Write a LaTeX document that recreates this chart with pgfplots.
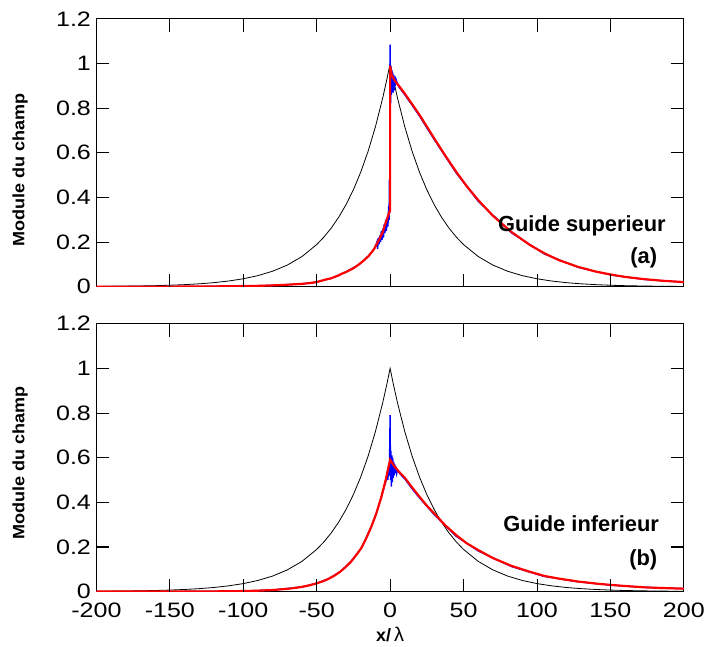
\documentclass[border=0pt]{standalone}
\usepackage{fontspec}
\setmainfont{Liberation Sans}
\usepackage{graphicx}
\usepackage{pgfplots}
\usepackage{pgfplotstable}
\usetikzlibrary{calc}
\pgfplotsset{compat=1.18}
\newcommand\sx[1]{\scalebox{1.2}[1]{#1}}

% reference mode (black)
\pgfplotstableread{
x y
-200 0.0013
-190 0.0018
-180 0.0025
-170 0.0035
-160 0.0048
-150 0.0067
-140 0.0094
-130 0.0131
-120 0.0183
-110 0.0256
-100 0.0357
-90 0.0498
-80 0.0695
-70 0.0970
-60 0.1353
-50 0.1889
-45 0.2231
-40 0.2636
-35 0.3114
-30 0.3679
-25 0.4346
-20 0.5134
-15 0.6065
-10 0.7165
-5 0.8465
-2 0.9355
0 1.0
2 0.9355
5 0.8465
10 0.7165
15 0.6065
20 0.5134
25 0.4346
30 0.3679
35 0.3114
40 0.2636
45 0.2231
50 0.1889
60 0.1353
70 0.0970
80 0.0695
90 0.0498
100 0.0357
110 0.0256
120 0.0183
130 0.0131
140 0.0094
150 0.0067
160 0.0048
170 0.0035
180 0.0025
190 0.0018
200 0.0013
}\refmode

% guide superieur (a)
\pgfplotstableread{
x y
-200 0.0001
-150 0.0005
-120 0.0015
-100 0.003
-90 0.004
-80 0.006
-70 0.009
-60 0.013
-55 0.016
-50 0.021
-44 0.032
-40 0.038
-35 0.051
-32.7 0.059
-30 0.066
-25 0.083
-21.4 0.099
-18 0.117
-14.6 0.138
-11 0.168
-7.8 0.207
-5 0.245
-3.3 0.281
-1.5 0.315
-0.5 0.335
0 0.34
0 0.99
1 0.95
3 0.925
6 0.90
10 0.865
14.8 0.82
20 0.77
25 0.718
30 0.665
37.5 0.588
45 0.515
52 0.452
60 0.388
70 0.318
82.7 0.245
95 0.188
105 0.150
115 0.119
128 0.089
140 0.068
150 0.055
160 0.044
173 0.034
185 0.027
200 0.021
}\supred

\pgfplotstableread{
x y
-200 0.0001
-150 0.0005
-120 0.0015
-100 0.003
-80 0.006
-60 0.013
-50 0.021
-40 0.038
-30 0.066
-21.4 0.099
-14.6 0.138
-11 0.168
-10 0.18
-9 0.20
-8.5 0.17
-8 0.22
-7.5 0.19
-7 0.23
-6.5 0.20
-6 0.25
-5.5 0.21
-5 0.26
-4.5 0.22
-4 0.28
-3.5 0.24
-3 0.30
-2.5 0.25
-2 0.31
-1.5 0.27
-1 0.36
-0.7 0.30
-0.5 0.48
-0.3 0.33
0 1.085
0.3 0.82
0.6 0.99
0.9 0.86
1.2 0.97
1.5 0.88
1.8 0.96
2.1 0.87
2.5 0.95
2.8 0.88
3.2 0.94
3.6 0.90
4 0.93
5 0.91
6 0.895
10 0.86
14.8 0.815
20 0.765
30 0.66
45 0.51
60 0.383
82.7 0.241
105 0.147
128 0.087
150 0.053
173 0.033
200 0.020
}\supblue

% guide inferieur (b)
\pgfplotstableread{
x y
-200 0.0
-150 0.0001
-120 0.0008
-100 0.0023
-90 0.004
-80 0.0069
-70 0.012
-64 0.017
-60 0.021
-55 0.028
-50 0.037
-45 0.048
-42 0.057
-38 0.071
-34 0.089
-30.8 0.107
-27 0.131
-23 0.164
-19.5 0.196
-16 0.242
-12.7 0.292
-9.5 0.348
-6 0.423
-3 0.50
-1 0.56
0 0.59
3 0.56
7 0.53
10 0.51
14.8 0.468
20 0.425
25 0.385
30 0.35
37.5 0.297
45 0.253
52 0.217
60 0.186
70 0.15
82.7 0.115
95 0.089
105 0.07
115 0.058
128 0.045
140 0.036
150 0.030
160 0.025
173 0.019
185 0.016
200 0.013
}\infred

\pgfplotstableread{
x y
-200 0.0
-150 0.0001
-100 0.0023
-80 0.0069
-60 0.021
-50 0.037
-42 0.057
-34 0.089
-27 0.131
-19.5 0.196
-12.7 0.292
-9.5 0.348
-6 0.42
-4 0.47
-3 0.49
-2 0.53
-1.5 0.50
-1 0.57
-0.5 0.52
0 0.79
0.3 0.50
0.6 0.63
0.9 0.47
1.2 0.61
1.5 0.49
1.8 0.60
2.1 0.51
2.5 0.58
2.8 0.52
3.2 0.57
3.6 0.53
4 0.56
4.5 0.53
5 0.545
6 0.535
7 0.525
10 0.505
14.8 0.462
20 0.42
30 0.345
45 0.248
60 0.182
82.7 0.112
105 0.068
128 0.044
150 0.029
173 0.019
200 0.013
}\infblue

\pgfplotsset{
  panel/.style={
    width=591pt, height=269.5pt, scale only axis,
    xmin=-200, xmax=200, ymin=0, ymax=1.2,
    xtick={-200,-150,-100,-50,0,50,100,150,200},
    ytick={0,0.2,0.4,0.6,0.8,1,1.2},
    yticklabels={\sx{0},\sx{0.2},\sx{0.4},\sx{0.6},\sx{0.8},\sx{1},\sx{1.2}},
    tick align=inside,
    major tick length=13pt,
    tick style={black, line width=0.8pt},
    axis line style={line width=0.9pt},
    tick label style={font=\fontsize{21}{21}\selectfont},
    xticklabel style={yshift=-8pt},
    yticklabel style={xshift=-2pt},
    ylabel={\scalebox{1.1}[1]{Module du champ}},
    ylabel style={font=\bfseries\fontsize{16.5}{16.5}\selectfont, anchor=center, inner sep=0pt},
  },
}

\begin{document}
\begin{tikzpicture}
% canvas of the reference (transparent)
\path (-97pt,-361.7pt) rectangle (611pt,288.5pt);
\begin{axis}[panel, name=top, at={(0,0)}, anchor=south west,
  xticklabels={},
  ylabel style={at={(axis description cs:-0.13,0.436)}}]
  \addplot[black, line width=0.8pt] table {\refmode};
  \addplot[blue, line width=1.4pt] table {\supblue};
  \addplot[red, line width=2.2pt] table {\supred};
  \node[anchor=base east, inner sep=0pt, font=\bfseries\fontsize{22}{22}\selectfont]
    at (axis description cs:0.9695,0.208) {Guide superieur};
  \node[anchor=base east, inner sep=0pt, font=\bfseries\fontsize{22}{22}\selectfont]
    at (axis description cs:0.955,0.0865) {(a)};
\end{axis}
\begin{axis}[panel, name=bot, at={(0,-306.7pt)}, anchor=south west,
  xticklabels={\sx{-200},\sx{-150},\sx{-100},\sx{-50},\sx{0},\sx{50},\sx{100},\sx{150},\sx{200}},
  xlabel={{\bfseries x/}\,{\fontsize{20}{20}\selectfont λ}},
  xlabel style={font=\fontsize{18}{18}\selectfont, at={(axis description cs:0.5,-0.16)}, anchor=center},
  ylabel style={at={(axis description cs:-0.13,0.48)}}]
  \addplot[black, line width=0.8pt] table {\refmode};
  \addplot[blue, line width=1.4pt] table {\infblue};
  \addplot[red, line width=2.2pt] table {\infred};
  \node[anchor=base east, inner sep=0pt, font=\bfseries\fontsize{22}{22}\selectfont]
    at (axis description cs:0.958,0.223) {Guide inferieur};
  \node[anchor=base east, inner sep=0pt, font=\bfseries\fontsize{22}{22}\selectfont]
    at (axis description cs:0.955,0.098) {(b)};
\end{axis}
% inward tick marks on all four sides of both frames
\foreach \ax in {top,bot}{
  \foreach \f in {0.125,0.25,0.375,0.5,0.625,0.75,0.875}{
    \draw[black, line width=0.9pt] ($(\ax.south west)!\f!(\ax.south east)$) -- ++(0,13pt);
    \draw[black, line width=0.9pt] ($(\ax.north west)!\f!(\ax.north east)$) -- ++(0,-13pt);
  }
  \foreach \f in {0.16667,0.33333,0.5,0.66667,0.83333}{
    \draw[black, line width=0.9pt] ($(\ax.south west)!\f!(\ax.north west)$) -- ++(13pt,0);
    \draw[black, line width=0.9pt] ($(\ax.south east)!\f!(\ax.north east)$) -- ++(-13pt,0);
  }
}
\end{tikzpicture}
\end{document}
